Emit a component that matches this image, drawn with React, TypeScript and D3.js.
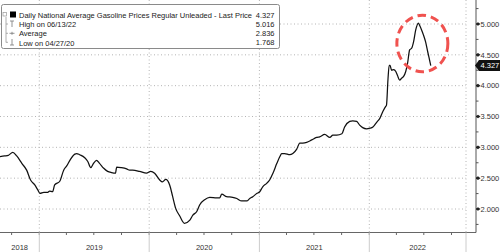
import React from "react";
import * as d3 from "d3";

const dates: string[] = [
  "2018-08-23","2018-09-08","2018-09-20","2018-10-05","2018-10-18","2018-11-04","2018-11-20","2018-12-03","2018-12-17","2018-12-27",
  "2019-01-03","2019-01-16","2019-01-29","2019-02-04","2019-02-14","2019-02-21","2019-03-10","2019-03-23","2019-04-02","2019-04-15",
  "2019-04-29","2019-05-05","2019-05-15","2019-06-01","2019-06-11","2019-06-21","2019-06-30","2019-07-10","2019-07-20","2019-08-03",
  "2019-08-16","2019-08-29","2019-09-11","2019-09-15","2019-10-01","2019-10-18","2019-10-28","2019-11-07","2019-11-30","2019-12-23",
  "2020-01-06","2020-01-19","2020-02-05","2020-02-14","2020-02-25","2020-03-09","2020-03-19","2020-03-29","2020-04-11","2020-04-27",
  "2020-05-15","2020-05-25","2020-06-07","2020-06-17","2020-07-03","2020-07-20","2020-08-12","2020-08-22","2020-08-29","2020-09-14",
  "2020-10-04","2020-10-18","2020-11-03","2020-11-20","2020-11-30","2020-12-10","2020-12-23","2021-01-02","2021-01-12","2021-01-26",
  "2021-02-04","2021-02-15","2021-02-28","2021-03-10","2021-03-16","2021-03-26","2021-04-12","2021-04-22","2021-05-05","2021-05-15",
  "2021-05-25","2021-06-07","2021-06-24","2021-07-10","2021-07-20","2021-08-06","2021-08-23","2021-09-02","2021-09-15","2021-10-02",
  "2021-10-11","2021-10-28","2021-11-07","2021-11-20","2021-11-30","2021-12-10","2021-12-23","2022-01-03","2022-01-13","2022-01-26",
  "2022-02-05","2022-02-15","2022-02-24","2022-02-27","2022-03-04","2022-03-08","2022-03-11","2022-03-16","2022-03-23","2022-03-30",
  "2022-04-05","2022-04-12","2022-04-18","2022-04-25","2022-05-02","2022-05-08","2022-05-15","2022-05-22","2022-05-28","2022-06-04",
  "2022-06-13","2022-06-17","2022-06-24","2022-06-30","2022-07-07","2022-07-14","2022-07-20","2022-07-24"
];

const prices: number[] = [
  2.85,2.86,2.87,2.92,2.86,2.74,2.63,2.47,2.39,2.31,
  2.255,2.27,2.27,2.29,2.28,2.39,2.45,2.63,2.70,2.81,
  2.89,2.90,2.88,2.83,2.77,2.67,2.74,2.79,2.74,2.66,
  2.61,2.59,2.58,2.68,2.67,2.65,2.63,2.63,2.61,2.58,
  2.61,2.58,2.47,2.44,2.48,2.39,2.20,2.01,1.89,1.768,
  1.82,1.90,1.96,2.07,2.15,2.19,2.18,2.18,2.24,2.20,
  2.19,2.17,2.13,2.13,2.17,2.20,2.25,2.28,2.36,2.42,
  2.47,2.58,2.74,2.85,2.90,2.90,2.88,2.90,2.97,3.07,
  3.07,3.08,3.12,3.16,3.17,3.21,3.16,3.20,3.20,3.22,
  3.33,3.42,3.43,3.42,3.36,3.32,3.30,3.31,3.33,3.41,
  3.47,3.58,3.66,3.68,4.10,4.33,4.33,4.25,4.26,4.23,
  4.16,4.09,4.12,4.15,4.23,4.36,4.58,4.61,4.71,4.90,
  5.016,4.98,4.90,4.82,4.71,4.55,4.42,4.327
];

const yTicks: number[] = [2.0, 2.5, 3.0, 3.5, 4.0, 4.5, 5.0];
const yMinor: number[] = [1.75, 2.25, 2.75, 3.25, 3.75, 4.25, 4.75, 5.25];
const yearLabels: string[] = ["2018", "2019", "2020", "2021", "2022"];

const legendTitle = "Daily National Average Gasoline Prices Regular Unleaded - Last Price";
const legendRows: string[] = ["High on 06/13/22", "Average", "Low on 04/27/20"];
const lastPrice = 4.327;
const highPrice = 5.016;
const avgPrice = 2.836;
const lowPrice = 1.768;
const highDate = "2022-06-13";

const W = 500, H = 252;
const plotRight = 466;
const axisX = 476;
const axisY = 232.5;

export default function App() {
  const parse = d3.timeParse("%Y-%m-%d");
  const data = dates.map((d, i) => ({ date: parse(d) as Date, v: prices[i] }));

  const x = d3.scaleTime()
    .domain([new Date(2019, 0, 1), new Date(2022, 0, 1)])
    .range([39.3, 369.3]);
  const y = d3.scaleLinear().domain([2.0, 5.0]).range([209, 24]);

  const line = d3.line<{ date: Date; v: number }>()
    .x(d => x(d.date))
    .y(d => y(d.v))
    .curve(d3.curveMonotoneX);

  const start = x.invert(0);
  const end = x.invert(plotRight);
  const yearBounds = [0, ...[2019, 2020, 2021, 2022].map(yr => x(new Date(yr, 0, 1))), plotRight];
  const quarters = d3.timeMonth.every(3)!.range(start, end);

  const font = "'Liberation Sans', Arial, sans-serif";
  const grid = "#b4b4b4";

  const peakX = x(parse(highDate) as Date);
  const lpY = y(lastPrice);

  const rowFmt = d3.format(".3f");
  const legendVals = [lastPrice, highPrice, avgPrice, lowPrice];

  return (
    <svg width={W} height={H} style={{ position: "absolute", left: 0, top: 0, background: "#fff" }} fontFamily={font}>
      <rect x={0} y={0} width={W} height={H} fill="#fff" />
      {yTicks.map(t => (
        <line key={"g" + t} x1={0} x2={plotRight} y1={y(t)} y2={y(t)} stroke={grid} strokeWidth={1} strokeDasharray="1,2.5" />
      ))}
      {yearBounds.slice(1).map((b, i) => (
        <line key={"v" + i} x1={b} x2={b} y1={0} y2={axisY} stroke={grid} strokeWidth={1} strokeDasharray="1,2.5" />
      ))}
      <path d={line(data) || ""} fill="none" stroke="#111" strokeWidth={1.25} strokeLinejoin="round" />

      <ellipse cx={peakX + 4} cy={y(4.684)} rx={25.5} ry={28.3} fill="none" stroke="#f0524f" strokeWidth={3} strokeDasharray="8.5,5" />

      <line x1={0} x2={axisX} y1={axisY} y2={axisY} stroke="#666" strokeWidth={1} />
      <line x1={axisX} x2={axisX} y1={0} y2={axisY} stroke="#555" strokeWidth={1} />
      {quarters.map((q, i) => (
        <line key={"q" + i} x1={x(q)} x2={x(q)} y1={axisY} y2={axisY + 2.5} stroke="#666" strokeWidth={1} />
      ))}
      {yearBounds.slice(1).map((b, i) => (
        <line key={"s" + i} x1={b} x2={b} y1={axisY} y2={H} stroke="#ccc" strokeWidth={1} />
      ))}
      {yearLabels.map((lab, i) => (
        <text key={lab} x={(yearBounds[i] + yearBounds[i + 1]) / 2} y={250} fontSize={7.5} textAnchor="middle" fill="#333">{lab}</text>
      ))}
      {yMinor.map(t => (
        <line key={"m" + t} x1={axisX} x2={axisX + 2.5} y1={y(t)} y2={y(t)} stroke="#555" strokeWidth={1} />
      ))}
      {yTicks.map(t => (
        <g key={"t" + t}>
          <path d={`M${axisX},${y(t) - 0.6} L${axisX + 2},${y(t) - 1.8} L${axisX + 4.5},${y(t)} L${axisX + 2},${y(t) + 1.8} L${axisX},${y(t) + 0.6} Z`} fill="#222" />
          <text x={480.5} y={y(t) + 2.8} fontSize={7.5} fill="#333">{rowFmt(t)}</text>
        </g>
      ))}
      <path d={`M${axisX - 1},${lpY} L${axisX + 3},${lpY - 5.5} L${W},${lpY - 5.5} L${W},${lpY + 5.5} L${axisX + 3},${lpY + 5.5} Z`} fill="#111" />
      <text x={480.5} y={lpY + 2.8} fontSize={7.5} fill="#fff">{rowFmt(lastPrice)}</text>

      <rect x={1.5} y={4.5} width={278} height={44} rx={2} fill="#fff" stroke="#8a8a8a" strokeWidth={1} />
      <rect x={3} y={12.5} width={3.5} height={3.5} fill="none" stroke="#999" strokeWidth={0.7} />
      <rect x={10} y={11.5} width={6} height={6} fill="#000" />
      <line x1={6} x2={6} y1={17} y2={42.5} stroke="#999" strokeWidth={0.8} />
      {[24, 33.3, 42.3].map((cy, i) => (
        <line key={"br" + i} x1={6} x2={8} y1={cy} y2={cy} stroke="#999" strokeWidth={0.8} />
      ))}
      <line x1={10} x2={14} y1={21} y2={21} stroke="#777" strokeWidth={0.8} />
      <line x1={12} x2={12} y1={21} y2={27} stroke="#777" strokeWidth={0.8} />
      <line x1={9.5} x2={14.5} y1={33.3} y2={33.3} stroke="#777" strokeWidth={0.8} />
      <line x1={12} x2={12} y1={31.8} y2={34.8} stroke="#777" strokeWidth={0.8} />
      <line x1={12} x2={12} y1={39} y2={45} stroke="#777" strokeWidth={0.8} />
      <line x1={10} x2={14} y1={45} y2={45} stroke="#777" strokeWidth={0.8} />
      <text x={19} y={17.5} fontSize={7.5} fill="#222" textLength={233} lengthAdjust="spacingAndGlyphs">{legendTitle}</text>
      {legendRows.map((r, i) => (
        <text key={r} x={19} y={27 + i * 9.3} fontSize={7.5} fill="#222">{r}</text>
      ))}
      {legendVals.map((v, i) => (
        <text key={"lv" + i} x={274.5} y={17.5 + i * 9.3} fontSize={7.5} fill="#222" textAnchor="end">{rowFmt(v)}</text>
      ))}
    </svg>
  );
}
